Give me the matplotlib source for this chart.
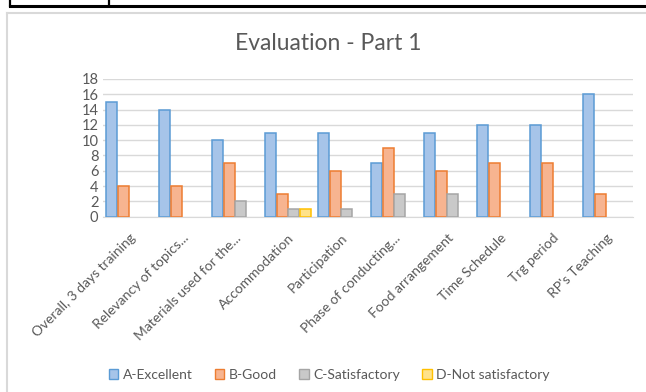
import matplotlib
matplotlib.use("Agg")
import matplotlib.pyplot as plt
import numpy as np
from matplotlib.lines import Line2D
from matplotlib.patches import Rectangle

categories = ["Overall, 3 days training", "Relevancy of topics...", "Materials used for the...",
              "Accommodation", "Participation", "Phase of conducting...", "Food arrangement",
              "Time Schedule", "Trg period", "RP's Teaching"]
series_names = ["A-Excellent", "B-Good", "C-Satisfactory", "D-Not satisfactory"]
excellent = [15, 14, 10, 11, 11, 7, 11, 12, 12, 16]
good = [4, 4, 7, 3, 6, 9, 6, 7, 7, 3]
satisfactory = [0, 0, 2, 1, 1, 3, 3, 0, 0, 0]
not_satisfactory = [0, 0, 0, 1, 0, 0, 0, 0, 0, 0]
y_ticks = [0, 2, 4, 6, 8, 10, 12, 14, 16, 18]

fills = ["#A6C4E9", "#F7B490", "#C9C9C9", "#FFE28A"]
edges = ["#5B9BD5", "#ED7D31", "#A5A5A5", "#FFC000"]
txt = "#595959"

plt.rcParams['font.family'] = ['Lato', 'DejaVu Sans']

W, H = 646, 392
fig = plt.figure(figsize=(W / 100, H / 100), dpi=100)

# table border lines at top
fig.add_artist(Line2D([10 / W, 1.0], [1 - 6 / H, 1 - 6 / H], color="black", lw=2.2))
for xv in (10, 109):
    fig.add_artist(Line2D([xv / W, xv / W], [1 - 6 / H, 1.0], color="black", lw=1.6))
# chart frame
fig.add_artist(Line2D([7 / W, 7 / W], [0, 1 - 13 / H], color="#D9D9D9", lw=1.5))
fig.add_artist(Line2D([7 / W, 1.0], [1 - 13 / H, 1 - 13 / H], color="#D9D9D9", lw=1.5))

ax = fig.add_axes([102.5 / W, 1 - 216.7 / H, 530 / W, (216.7 - 79) / H])
x = np.arange(len(categories))
data = [excellent, good, satisfactory, not_satisfactory]
step = 0.22
bw = 0.205
for k, vals in enumerate(data):
    vals = np.asarray(vals, dtype=float)
    lws = [1.1 if v > 0 else 0.0 for v in vals]
    ax.bar(x + (k - 1.5) * step, vals, width=bw, color=fills[k], edgecolor=edges[k],
           linewidth=lws, label=series_names[k], zorder=3)

ax.set_xlim(-0.5, len(categories) - 0.5)
ax.set_ylim(0, 18)
ax.set_yticks(y_ticks)
ax.set_yticklabels([str(v) for v in y_ticks], fontsize=10.5, color=txt)
ax.yaxis.grid(True, color="#D9D9D9", lw=1.0)
ax.set_axisbelow(True)
for s in ["top", "right", "left"]:
    ax.spines[s].set_visible(False)
ax.spines["bottom"].set_color("#D9D9D9")
ax.tick_params(axis="both", length=0)
ax.tick_params(axis="y", pad=3)
ax.set_xticks(x)
ax.set_xticklabels(categories, rotation=45, ha="right", va="top",
                   rotation_mode="anchor", fontsize=10, color=txt)
ax.tick_params(axis="x", pad=11)

fig.text(328 / W, 1 - 44 / H, "Evaluation - Part 1", ha="center", va="center",
         fontsize=16.5, color=txt)

handles = [Rectangle((0, 0), 1, 1, facecolor=fills[k], edgecolor=edges[k], lw=1.0)
           for k in range(4)]
fig.legend(handles, series_names, loc="center", bbox_to_anchor=(329 / W, 1 - 375 / H),
           ncol=4, frameon=False, fontsize=10, handlelength=0.7, handleheight=0.7,
           handletextpad=0.3, columnspacing=1.6, labelcolor=txt)

fig.savefig("out.png", dpi=100, facecolor="white")
